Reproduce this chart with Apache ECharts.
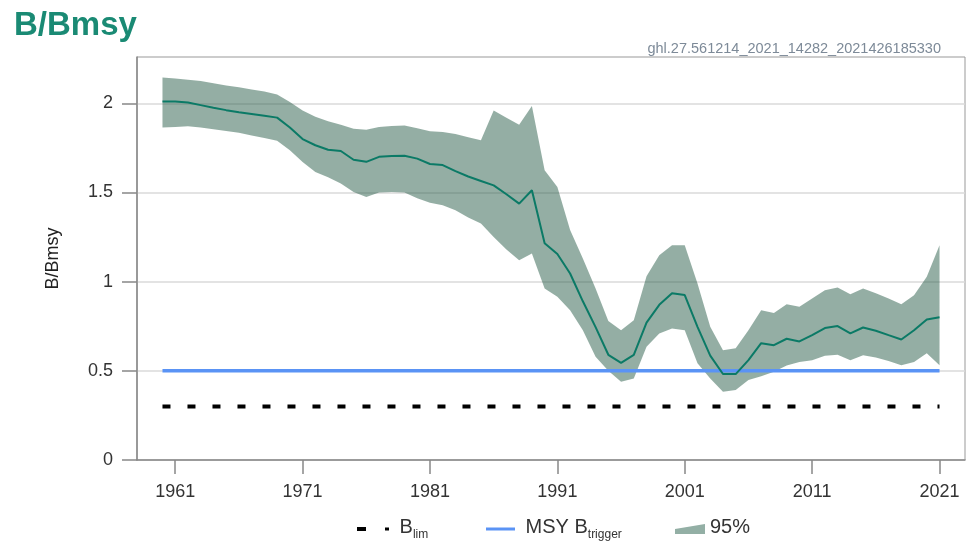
<!DOCTYPE html>
<html>
<head>
<meta charset="utf-8">
<script src="https://cdn.jsdelivr.net/npm/echarts@6/dist/echarts.min.js"></script>
<style>html,body{margin:0;padding:0;background:#fff;}#c{width:970px;height:543px;}</style>
</head>
<body>
<div id="c"></div>
<script>
const years = [1960,1961,1962,1963,1964,1965,1966,1967,1968,1969,
  1970,1971,1972,1973,1974,1975,1976,1977,1978,1979,
  1980,1981,1982,1983,1984,1985,1986,1987,1988,1989,
  1990,1991,1992,1993,1994,1995,1996,1997,1998,1999,
  2000,2001,2002,2003,2004,2005,2006,2007,2008,2009,
  2010,2011,2012,2013,2014,2015,2016,2017,2018,2019,
  2020,2021];
const median = [2.01,2.01,2.005,1.99,1.975,1.962,1.95,1.94,1.93,1.92,
  1.865,1.80,1.765,1.74,1.733,1.684,1.672,1.70,1.705,1.706,
  1.69,1.66,1.654,1.62,1.59,1.565,1.54,1.49,1.438,1.513,
  1.215,1.155,1.046,0.89,0.745,0.59,0.545,0.59,0.77,0.87,
  0.935,0.925,0.747,0.585,0.482,0.482,0.56,0.655,0.644,0.68,
  0.665,0.70,0.74,0.751,0.71,0.743,0.725,0.70,0.676,0.728,
  0.788,0.80];
const upper = [2.145,2.14,2.133,2.125,2.113,2.10,2.09,2.078,2.066,2.05,
  2.008,1.96,1.925,1.90,1.88,1.858,1.852,1.868,1.873,1.876,
  1.86,1.843,1.84,1.828,1.81,1.793,1.96,1.92,1.88,1.985,
  1.625,1.531,1.29,1.13,0.962,0.78,0.728,0.784,1.03,1.148,
  1.204,1.204,0.99,0.747,0.616,0.626,0.728,0.84,0.825,0.874,
  0.859,0.906,0.952,0.967,0.93,0.962,0.935,0.905,0.874,0.924,
  1.027,1.204];
const lower = [1.864,1.868,1.871,1.865,1.855,1.845,1.835,1.82,1.806,1.79,
  1.737,1.671,1.615,1.585,1.55,1.503,1.475,1.50,1.503,1.50,
  1.468,1.442,1.429,1.40,1.36,1.326,1.251,1.18,1.12,1.158,
  0.962,0.915,0.84,0.728,0.579,0.50,0.439,0.457,0.635,0.71,
  0.738,0.728,0.542,0.457,0.383,0.392,0.448,0.47,0.495,0.53,
  0.55,0.56,0.585,0.59,0.56,0.588,0.575,0.555,0.532,0.55,
  0.598,0.532];
const refYears = [1960, 2021];
const bTrigger = 0.5;
const bLim = 0.3;
const xTicks = [1961,1971,1981,1991,2001,2011,2021];
const yTicks = [0,0.5,1,1.5,2];

const font = "'Liberation Sans', Arial, sans-serif";
const bandColor = 'rgba(41,93,73,0.5)';

const chart = echarts.init(document.getElementById('c'), null, {renderer: 'canvas'});

const legendText = {
  fontFamily: font, color: '#333',
  rich: {
    b: {fontSize: 20, fontFamily: font, color: '#333', lineHeight: 24, verticalAlign: 'top'},
    s: {fontSize: 12, fontFamily: font, color: '#333', lineHeight: 14, verticalAlign: 'bottom'}
  }
};

function renderBand(params, api) {
  if (params.dataIndex !== 0) return;
  const pts = [];
  for (let i = 0; i < years.length; i++) pts.push(api.coord([years[i], upper[i]]));
  for (let i = years.length - 1; i >= 0; i--) pts.push(api.coord([years[i], lower[i]]));
  return {
    type: 'polygon',
    shape: {points: pts},
    style: {fill: bandColor, stroke: null}
  };
}

chart.setOption({
  animation: false,
  backgroundColor: '#fff',
  title: [
    {text: 'B/Bmsy', left: 9, top: 4,
     textStyle: {fontFamily: font, fontSize: 33, fontWeight: 'bold', color: '#1a8a74'}},
    {text: 'ghl.27.561214_2021_14282_2021426185330', right: 24, top: 36,
     textStyle: {fontFamily: font, fontSize: 14.5, fontWeight: 'normal', color: '#7d8a98'}}
  ],
  grid: {left: 137, top: 57, right: 5, bottom: 83, show: true, borderColor: '#999', borderWidth: 1},
  legend: [
    {data: [{name: 'Blim', icon: 'path://M0,0 H9 V4 H0 Z M28,0.5 H32 V3.5 H28 Z', itemStyle: {color: '#000'}}],
     left: 352, top: 512, itemWidth: 32, itemHeight: 4, selectedMode: false,
     formatter: () => '{b| B}{s|lim}', textStyle: legendText},
    {data: [{name: 'MSY Btrigger', icon: 'rect', itemStyle: {color: '#5a93f5'}}],
     left: 481, top: 512, itemWidth: 29, itemHeight: 3, selectedMode: false,
     formatter: () => '{b| MSY B}{s|trigger}', textStyle: legendText},
    {data: [{name: '95%', icon: 'path://M0,5 L30,0 L30,10 L0,10 Z', itemStyle: {color: '#93afa5'}}],
     left: 670, top: 512, itemWidth: 30, itemHeight: 11, selectedMode: false,
     formatter: () => '{b|95%}', textStyle: legendText}
  ],
  xAxis: {
    type: 'value', min: 1958, max: 2023,
    axisLine: {show: true, lineStyle: {color: '#888', width: 1.5}},
    axisTick: {show: true, length: 14, customValues: xTicks, lineStyle: {color: '#888', width: 1.5}},
    axisLabel: {customValues: xTicks, margin: 23, fontFamily: font, fontSize: 18, color: '#333',
                formatter: v => String(v)},
    splitLine: {show: false}
  },
  yAxis: {
    type: 'value', min: 0, max: 2.26, interval: 0.5,
    name: 'B/Bmsy', nameLocation: 'middle', nameGap: 75,
    nameTextStyle: {fontFamily: font, fontSize: 18, color: '#222'},
    axisLine: {show: true, lineStyle: {color: '#888', width: 1.5}},
    axisTick: {show: true, length: 15, customValues: yTicks, lineStyle: {color: '#888', width: 1.5}},
    axisLabel: {customValues: yTicks, margin: 24, fontFamily: font, fontSize: 18, color: '#333'},
    splitLine: {show: true, lineStyle: {color: '#dadada', width: 1.5}}
  },
  series: [
    {name: '95%', type: 'custom', silent: true, clip: true,
     renderItem: renderBand,
     data: years.map((y, i) => [y, lower[i], upper[i]]),
     encode: {x: 0, y: [1, 2]},
     itemStyle: {color: '#93afa5'}, z: 2},
    {name: 'MSY Btrigger', type: 'line', symbol: 'none', silent: true,
     data: refYears.map(y => [y, bTrigger]),
     lineStyle: {color: '#5a93f5', width: 3.5}, itemStyle: {color: '#5a93f5'}, z: 3},
    {name: 'Median', type: 'line', symbol: 'none', silent: true,
     data: years.map((y, i) => [y, median[i]]),
     lineStyle: {color: '#0b7a66', width: 2}, z: 4},
    {name: 'Blim', type: 'line', symbol: 'none', silent: true,
     data: refYears.map(y => [y, bLim]),
     lineStyle: {color: '#000', width: 4, type: [8, 17]}, itemStyle: {color: '#000'}, z: 5}
  ]
});
</script>
</body>
</html>
